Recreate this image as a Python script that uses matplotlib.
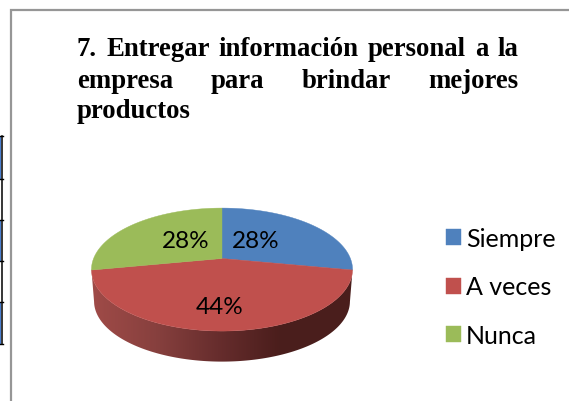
import numpy as np
import matplotlib
matplotlib.use('Agg')
import matplotlib.pyplot as plt
from matplotlib.colors import LinearSegmentedColormap
from matplotlib.patches import Polygon, Rectangle

labels = ['Siempre', 'A veces', 'Nunca']
shares = [28, 44, 28]
colors = ['#4f81bd', '#c0504d', '#9bbb59']
title_lines = ['7. Entregar información personal a la',
               'empresa para brindar mejores',
               'productos']
table_rows = [137, 180, 221, 262, 303, 345]

# pie geometry in pixels, k tilts the circle so the apex sits above the middle
cx, cy = 222, 259.5
rx, ry = 128.4, 59.5
k = 0.18
depth = 32


def rim(theta, scale=1.0, drop=0):
    u = np.sin(theta)
    v = np.cos(theta)
    w = 1 + k * v
    return cx + scale * rx * u / w, cy - scale * ry * v / w + drop


fig = plt.figure(figsize=(5.69, 4.02), dpi=100)
ax = fig.add_axes([0, 0, 1, 1])

# wedges go clockwise from the top
edges = np.radians(np.cumsum([0] + shares) * 3.6)

# side of the pie under the red slice
theta = np.linspace(edges[1], edges[2], 150)
x1, y1 = rim(theta)
x2, y2 = rim(theta[::-1], scale=0.98, drop=depth)
side = Polygon(np.column_stack([np.r_[x1, x2], np.r_[y1, y2]]),
               closed=True, fc='none', ec='none', transform=ax.transData)
ax.add_patch(side)
cmap = LinearSegmentedColormap.from_list('side', [
    (0.0, '#a04b48'), (0.25, '#87403e'), (0.5, '#652c2c'),
    (0.72, '#4b1e1c'), (1.0, '#4a1f1d')])
img = ax.imshow(np.linspace(0, 1, 256).reshape(1, -1), cmap=cmap, aspect='auto',
                extent=(91, 352, 375, 260), zorder=1)
img.set_clip_path(side)

# top faces
handles = []
for i in range(len(shares)):
    theta = np.linspace(edges[i], edges[i + 1], 150)
    x, y = rim(theta)
    h = ax.fill(np.r_[cx, x], np.r_[cy, y], color=colors[i], lw=0.3,
                zorder=2, label=labels[i])[0]
    handles.append(h)

# value labels
font = 'Lato'
label_pos = [(256, 242), (220, 308), (186, 242)]
for s, (px, py) in zip(shares, label_pos):
    ax.text(px, py, f'{s}%', ha='center', va='center', fontsize=17.5,
            family=font, color='black', zorder=3)

ax.set_xlim(0, 569)
ax.set_ylim(402, 0)
ax.axis('off')

leg = ax.legend(handles=handles, loc='upper left', bbox_to_anchor=(446 / 569, 1 - 228 / 402),
                frameon=False, borderpad=0, borderaxespad=0, handlelength=0.6,
                handleheight=0.6, handletextpad=0.2, labelspacing=1.02,
                prop={'family': font, 'size': 18})

# chart frame, only top and left show
ax.plot([569, 11, 11], [11, 11, 402], color='#969696', lw=1.6, solid_joinstyle='miter', zorder=4)

# piece of the table cut off on the left
for i in range(len(table_rows) - 1):
    if i % 2 == 0:
        ax.add_patch(Rectangle((0, table_rows[i]), 1.5, table_rows[i + 1] - table_rows[i],
                               fc='#4a7fd0', ec='none', zorder=4))
ax.plot([2.2, 2.2], [table_rows[0], table_rows[-1]], color='black', lw=1.1, zorder=5)
for r in table_rows:
    ax.plot([0, 2.8], [r, r], color='black', lw=1.0, zorder=5)

# title, first two lines justified by hand
fig.canvas.draw()
renderer = fig.canvas.get_renderer()
left, right = 77, 518
line_y = [56.5, 88, 118]
for i, line in enumerate(title_lines):
    words = line.split()
    items = [ax.text(left, line_y[i], w, fontsize=19.3, family='Liberation Serif',
                     weight='bold', ha='left', va='baseline', color='black', zorder=6)
             for w in words]
    widths = [t.get_window_extent(renderer).width for t in items]
    if i < 2:
        gap = (right - left - sum(widths)) / (len(words) - 1)
    else:
        gap = 0
    x = left
    for t, w in zip(items, widths):
        t.set_x(x)
        x += w + gap

fig.savefig('out.png', dpi=100)
